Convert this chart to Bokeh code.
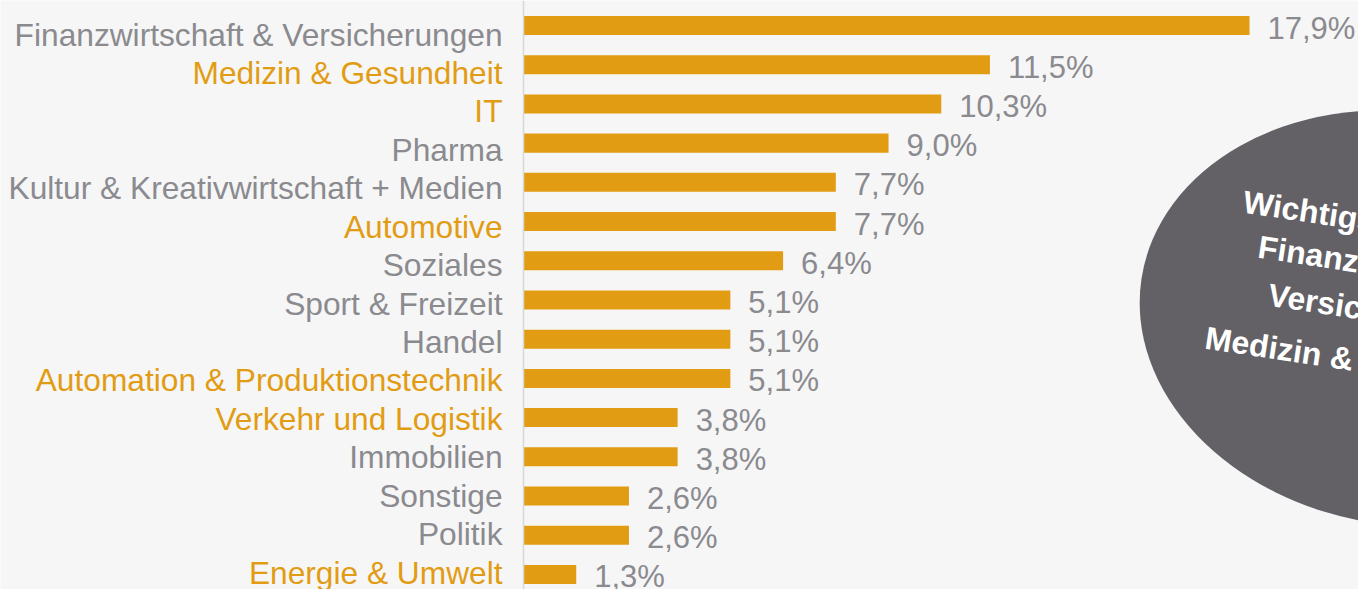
from bokeh.plotting import figure
from bokeh.models import Range1d, ColumnDataSource, Span
from bokeh.core.properties import value
from bokeh.embed import file_html
from bokeh.resources import INLINE

# ---------------- data ----------------
categories = [
    "Finanzwirtschaft & Versicherungen",
    "Medizin & Gesundheit",
    "IT",
    "Pharma",
    "Kultur & Kreativwirtschaft + Medien",
    "Automotive",
    "Soziales",
    "Sport & Freizeit",
    "Handel",
    "Automation & Produktionstechnik",
    "Verkehr und Logistik",
    "Immobilien",
    "Sonstige",
    "Politik",
    "Energie & Umwelt",
]
shares = [17.9, 11.5, 10.3, 9.0, 7.7, 7.7, 6.4, 5.1, 5.1, 5.1, 3.8, 3.8, 2.6, 2.6, 1.3]
share_labels = ["17,9%", "11,5%", "10,3%", "9,0%", "7,7%", "7,7%", "6,4%", "5,1%",
                "5,1%", "5,1%", "3,8%", "3,8%", "2,6%", "2,6%", "1,3%"]
highlighted = [False, True, True, False, False, True, False, False, False, True,
               True, False, False, False, True]
bubble_lines = ["Wichtigste Branchen:", "Finanzwirtschaft &", "Versicherungen,",
                "Medizin & Gesundheit"]

# ---------------- style / layout ----------------
W, H = 1358, 589
ORANGE = "#e29c13"
GREY = "#8a8a8f"
BG = "#f6f6f6"
BUBBLE = "#636166"
FONT = "Liberation Sans"

ZERO_PX = 523.0      # pixel position of value 0
PX_PER_PCT = 40.56   # pixels per percentage point
ROW0_PX = 25.0       # pixel centre of first row (from top)
ROW_STEP = 39.21     # pixels between rows
LABEL_STEP = 38.43   # label rows are spaced slightly tighter

def px_x(px):
    return (px - ZERO_PX) / PX_PER_PCT

def px_y(py):
    return (py - ROW0_PX) / ROW_STEP

rows = list(range(len(categories)))
label_shift = [9.0 - (ROW_STEP - LABEL_STEP) * i for i in rows]

src = ColumnDataSource(dict(
    y=rows,
    share=shares,
    cat=categories,
    lab=share_labels,
    cat_color=[ORANGE if h else GREY for h in highlighted],
    cat_off=label_shift,
))

p = figure(width=W, height=H, output_backend="svg", toolbar_location=None,
           x_range=Range1d(px_x(0), px_x(W)),
           y_range=Range1d(px_y(H), px_y(0)),
           x_axis_location=None, y_axis_location=None,
           min_border=0, background_fill_color=BG, border_fill_color=BG,
           outline_line_color=None)
p.grid.visible = False

# bubble on the right
p.ellipse(x=[px_x(1404)], y=[px_y(318)], width=532, height=414,
          width_units="screen", height_units="screen", angle=-0.15,
          fill_color=BUBBLE, line_color=None)
bub_x = [px_x(v) for v in (1243, 1258, 1268, 1205)]
bub_y = [px_y(v) for v in (201, 246, 294, 337)]
p.text(x=bub_x, y=bub_y, text=bubble_lines, angle=-0.15,
       text_align="left", text_baseline="middle", text_color="white",
       text_font=value(FONT), text_font_style="bold", text_font_size="32px")

# axis line
p.add_layout(Span(location=0, dimension="height", line_color="#d8d8d8", line_width=1.5))

# bars
p.hbar(y="y", left=0, right="share", height=0.485, source=src,
       fill_color=ORANGE, line_color=None)

# category labels
p.text(x=0, y="y", text="cat", source=src, x_offset=-21, y_offset="cat_off",
       text_align="right", text_baseline="middle", text_color="cat_color",
       text_font=value(FONT), text_font_size="31.7px")

# value labels
p.text(x="share", y="y", text="lab", source=src, x_offset=18, y_offset=2.5,
       text_align="left", text_baseline="middle", text_color=GREY,
       text_font=value(FONT), text_font_size="31px")

open("out.html", "w").write(file_html(p, INLINE))
